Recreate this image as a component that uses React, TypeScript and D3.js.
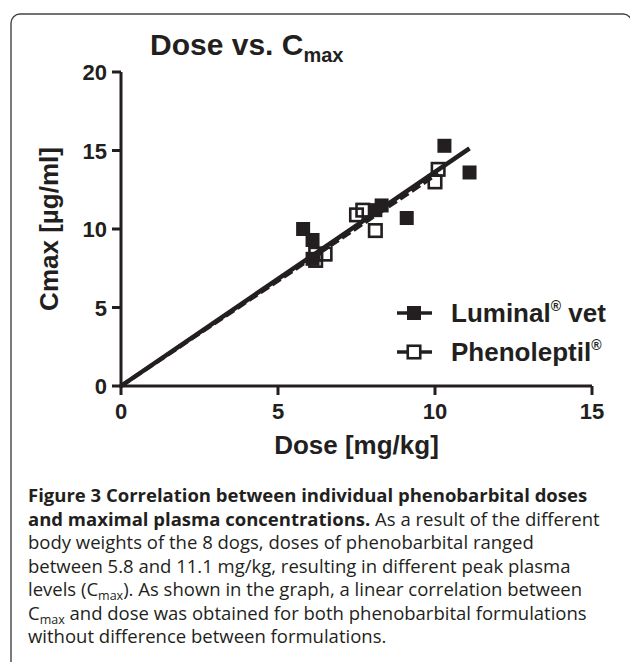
import React from "react";
import * as d3 from "d3";

// dose [mg/kg] and Cmax [µg/ml] per dog
const luminalDose = [5.8, 6.1, 6.1, 8.1, 8.3, 9.1, 10.3, 11.1];
const luminalCmax = [10.0, 9.3, 8.1, 11.2, 11.5, 10.7, 15.3, 13.6];
const phenoDose = [6.2, 6.2, 6.5, 7.5, 7.7, 8.1, 10.0, 10.1];
const phenoCmax = [8.0, 8.4, 8.4, 10.9, 11.2, 9.9, 13.0, 13.8];

const xTicks = [0, 5, 10, 15];
const yTicks = [0, 5, 10, 15, 20];

const captionLines = [
  [{ t: "Figure 3 Correlation between individual phenobarbital doses", b: true }],
  [
    { t: "and maximal plasma concentrations.", b: true },
    { t: " As a result of the different" },
  ],
  [{ t: "body weights of the 8 dogs, doses of phenobarbital ranged" }],
  [{ t: "between 5.8 and 11.1 mg/kg, resulting in different peak plasma" }],
  [
    { t: "levels (C" },
    { t: "max", sub: true },
    { t: "). As shown in the graph, a linear correlation between" },
  ],
  [
    { t: "C" },
    { t: "max", sub: true },
    { t: " and dose was obtained for both phenobarbital formulations" },
  ],
  [{ t: "without difference between formulations." }],
];

const ink = "#231f20";
const chartFont = "'Liberation Sans', Arial, sans-serif";
const capFont = "'Open Sans', sans-serif";

// least squares through the origin
function slopeThroughOrigin(xs: number[], ys: number[]) {
  return d3.sum(xs, (x, i) => x * ys[i]) / d3.sum(xs, (x) => x * x);
}

export default function App() {
  const x = d3.scaleLinear().domain([0, 15]).range([121, 592]);
  const y = d3.scaleLinear().domain([0, 20]).range([386, 72]);

  const line = d3
    .line<[number, number]>()
    .x((d) => x(d[0]))
    .y((d) => y(d[1]));

  const kL = slopeThroughOrigin(luminalDose, luminalCmax);
  const kP = slopeThroughOrigin(phenoDose, phenoCmax);
  const maxL = d3.max(luminalDose) as number;
  const maxP = d3.max(phenoDose) as number;

  const sq = 14;
  const osq = 12.5;

  return (
    <svg
      width={630}
      height={662}
      style={{ position: "absolute", left: 0, top: 0, background: "#fff" }}
    >
      <rect
        x={11}
        y={14}
        width={621}
        height={700}
        rx={9}
        fill="none"
        stroke="#444"
        strokeWidth={1.4}
      />

      {/* title */}
      <text x={150} y={55} fontFamily={chartFont} fontWeight="bold" fontSize={30} fill={ink}>
        Dose vs. C
        <tspan fontSize={20} dy={7}>
          max
        </tspan>
      </text>

      {/* axes */}
      <g stroke={ink} strokeWidth={3} fill="none">
        <line x1={x(0)} x2={x(0)} y1={y(0) + 1.5} y2={y(20)} />
        <line x1={x(0) - 1.5} x2={x(15)} y1={y(0)} y2={y(0)} />
        {yTicks.map((t) => (
          <line key={"yt" + t} x1={x(0) - 9} x2={x(0)} y1={y(t)} y2={y(t)} />
        ))}
        {xTicks.map((t) => (
          <line key={"xt" + t} x1={x(t)} x2={x(t)} y1={y(0)} y2={y(0) + 9} />
        ))}
      </g>
      <g fontFamily={chartFont} fontWeight="bold" fontSize={22} fill={ink}>
        {yTicks.map((t) => (
          <text key={"yl" + t} x={x(0) - 14} y={y(t) + 8} textAnchor="end">
            {t}
          </text>
        ))}
        {xTicks.map((t) => (
          <text key={"xl" + t} x={x(t)} y={y(0) + 33} textAnchor="middle">
            {t}
          </text>
        ))}
      </g>
      <text
        x={x(7.5)}
        y={454}
        textAnchor="middle"
        fontFamily={chartFont}
        fontWeight="bold"
        fontSize={26}
        fill={ink}
      >
        Dose [mg/kg]
      </text>
      <text
        transform={`translate(58,${y(10)}) rotate(-90)`}
        textAnchor="middle"
        fontFamily={chartFont}
        fontWeight="bold"
        fontSize={26}
        fill={ink}
      >
        Cmax [µg/ml]
      </text>

      {/* fitted lines */}
      <path
        d={line([[0, 0], [maxP, kP * maxP]]) as string}
        stroke={ink}
        strokeWidth={4}
        strokeDasharray="10,4"
        fill="none"
      />
      <path
        d={line([[0, 0], [maxL, kL * maxL]]) as string}
        stroke={ink}
        strokeWidth={4.5}
        fill="none"
      />

      {/* data */}
      {phenoDose.map((d, i) => (
        <rect
          key={"p" + i}
          x={x(d) - osq / 2}
          y={y(phenoCmax[i]) - osq / 2}
          width={osq}
          height={osq}
          fill="none"
          stroke={ink}
          strokeWidth={2.6}
        />
      ))}
      {luminalDose.map((d, i) => (
        <rect
          key={"l" + i}
          x={x(d) - sq / 2}
          y={y(luminalCmax[i]) - sq / 2}
          width={sq}
          height={sq}
          fill={ink}
        />
      ))}

      {/* legend */}
      <g>
        <line x1={397} x2={432} y1={313} y2={313} stroke={ink} strokeWidth={3.5} />
        <rect x={414 - sq / 2} y={313 - sq / 2} width={sq} height={sq} fill={ink} />
        <line x1={397} x2={432} y1={352} y2={352} stroke={ink} strokeWidth={3.5} />
        <rect
          x={414 - osq / 2}
          y={352 - osq / 2}
          width={osq}
          height={osq}
          fill="#fff"
          stroke={ink}
          strokeWidth={2.6}
        />
        <text x={451} y={322} fontFamily={chartFont} fontWeight="bold" fontSize={26} fill={ink}>
          Luminal
          <tspan fontSize={14} dy={-11}>®</tspan>
          <tspan dy={11}> vet</tspan>
        </text>
        <text x={451} y={361} fontFamily={chartFont} fontWeight="bold" fontSize={26} fill={ink}>
          Phenoleptil
          <tspan fontSize={14} dy={-11}>®</tspan>
        </text>
      </g>

      {/* caption */}
      <g fontFamily={capFont} fontSize={18.5} fill={ink}>
        {captionLines.map((parts, li) => (
          <text key={"c" + li} x={28} y={502 + li * 23.5}>
            {parts.map((p: any, pi) =>
              p.sub ? (
                <tspan key={pi} fontSize={12.5} dy={4}>
                  {p.t}
                </tspan>
              ) : (
                <tspan
                  key={pi}
                  fontWeight={p.b ? 700 : 400}
                  dy={pi > 0 && parts[pi - 1].sub ? -4 : 0}
                >
                  {p.t}
                </tspan>
              )
            )}
          </text>
        ))}
      </g>
    </svg>
  );
}
